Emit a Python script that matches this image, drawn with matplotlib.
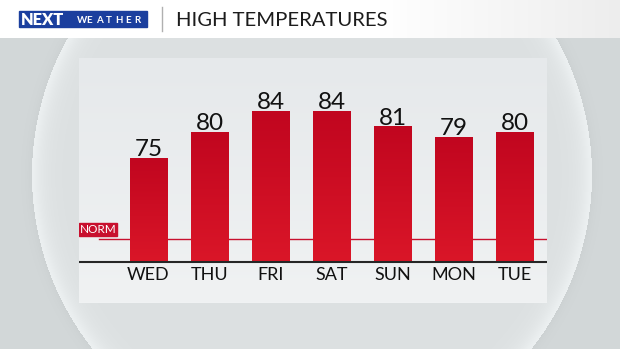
import matplotlib
matplotlib.use('Agg')

import matplotlib.pyplot as plt
import numpy as np
from matplotlib.patches import Rectangle

# data
days = ['WED', 'THU', 'FRI', 'SAT', 'SUN', 'MON', 'TUE']
highs = [75, 80, 84, 84, 81, 79, 80]
normal_high = 59.5
base_temp = 55

W, H = 620, 349
FONT = 'Lato'

fig = plt.figure(figsize=(W / 100, H / 100), dpi=100)

# background layer, pixel coordinates
bg = fig.add_axes([0, 0, 1, 1])
bg.set_xlim(0, W)
bg.set_ylim(H, 0)
bg.axis('off')

yy, xx = np.mgrid[0:H, 0:W] + 0.5
r = np.hypot(xx - 312, yy - 175)
R = 280
img = np.ones((H, W, 3))
outside = np.array([211, 216, 217]) / 255
inside = np.array([220, 224, 225]) / 255
inner = r < R
d_in = np.clip(R - r, 0, None)
d_out = np.clip(r - R, 0, None)
rim = 0.08 * np.exp(-d_in / 10.0)
shade = -0.025 * np.exp(-d_out / 6.0)
img[:] = outside
img += (shade)[..., None]
img[inner] = inside + rim[inner][:, None] - 0.02 * np.exp(-d_in[inner] / 2.0)[:, None]

# header band
hdr = 1 - 0.07 * np.clip((xx[:38] - 380) / 240, 0, 1)
img[:38] = hdr[..., None]

# panel
py0, py1, px0, px1 = 58, 303, 79, 547
t = np.linspace(0, 1, py1 - py0)[:, None]
top_c = np.array([230, 233, 235]) / 255
bot_c = np.array([240, 242, 243]) / 255
img[py0:py1, px0:px1] = (top_c * (1 - t) + bot_c * t)[:, None, :]

bg.imshow(np.clip(img, 0, 1), extent=[0, W, H, 0], aspect='auto', zorder=0)

# header content
bg.add_patch(Rectangle((19, 11), 128, 16, color='#1b3f9e', zorder=2))
bg.text(21, 24.8, 'NEXT', color='white', fontsize=11.8, fontweight='heavy',
        family=FONT, va='baseline', zorder=3)
for i, ch in enumerate('WEATHER'):
    bg.text(77 + i * 9.6, 23.3, ch, color='white', fontsize=7, fontweight='bold',
            family=FONT, va='baseline', zorder=3)
bg.plot([162, 162], [7, 31], color='#b0b0b0', lw=1, zorder=2)
bg.text(176, 26, 'HIGH TEMPERATURES', color='#1c1c1c', fontsize=14.6,
        family=FONT, va='baseline', zorder=3)

# chart axes over the panel
ax = fig.add_axes([px0 / W, (H - py1) / H, (px1 - px0) / W, (py1 - py0) / H])
ax.patch.set_alpha(0)
ax.axis('off')
px_per_bar = 61.0
px_per_deg = 5.2
xlim = ((px0 - 148.5) / px_per_bar, (px1 - 148.5) / px_per_bar)
ylim = (base_temp - (py1 - 262) / px_per_deg, base_temp + (262 - py0) / px_per_deg)

x = np.arange(len(days))
heights = np.array(highs) - base_temp
bars = ax.bar(x, heights, width=0.607, bottom=base_temp, color='none', zorder=3)

grad = np.linspace(0, 1, 64)[:, None, None]
c_top = np.array([193, 6, 31]) / 255
c_bot = np.array([218, 22, 40]) / 255
grad_img = c_top * (1 - grad) + c_bot * grad
for b in bars:
    ax.imshow(grad_img, extent=[b.get_x(), b.get_x() + b.get_width(),
                                b.get_y(), b.get_y() + b.get_height()],
              origin='upper', aspect='auto', zorder=3)

for xi, v in zip(x, highs):
    ax.text(xi, v + 2 / px_per_deg, str(v), ha='center', va='baseline',
            fontsize=17.5, family=FONT, color='#111111', zorder=4)

for xi, d in zip(x, days):
    ax.text(xi, base_temp - 18 / px_per_deg, d, ha='center', va='baseline',
            fontsize=13, family=FONT, color='#111111', zorder=4)

# baseline and normal line
ax.axhline(base_temp, color='#262626', lw=1.5, zorder=5)
ax.axhline(normal_high, xmin=20 / (px1 - px0), xmax=1, color='#c8102e', lw=1.0, zorder=2)

# NORM tag
tag_x0 = xlim[0]
tag_w = 38 / px_per_bar
tag_y0 = normal_high + 3 / px_per_deg
tag_h = 13 / px_per_deg
ax.add_patch(Rectangle((tag_x0, tag_y0), tag_w, tag_h, color='#c8102e', zorder=4))
ax.text(tag_x0 + tag_w / 2, tag_y0 + tag_h / 2, 'NORM', color='white', fontsize=8.5,
        family=FONT, ha='center', va='center', zorder=5)

ax.set_xlim(*xlim)
ax.set_ylim(*ylim)

plt.savefig('out.png', dpi=100)
